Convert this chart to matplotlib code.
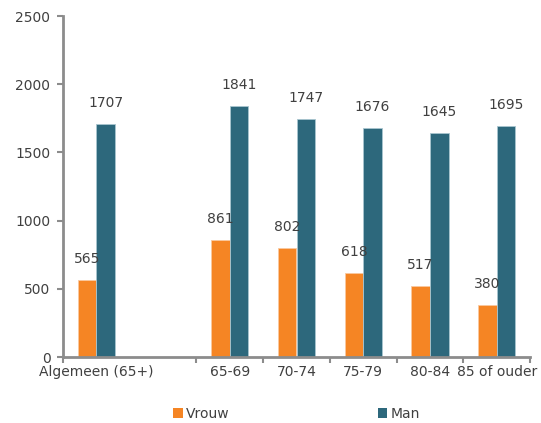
import numpy as np
import matplotlib.pyplot as plt
from matplotlib.patches import Patch

categories = ["Algemeen (65+)", "", "65-69", "70-74", "75-79", "80-84", "85 of ouder"]
vrouw = [565, np.nan, 861, 802, 618, 517, 380]
man = [1707, np.nan, 1841, 1747, 1676, 1645, 1695]

ORANGE = "#F58524"
BLUE = "#2D687C"
GREY = "#8C8C8C"
TXT = "#404040"

plt.rcParams["font.family"] = ["DejaVu Sans"]
plt.rcParams["font.size"] = 10

fig = plt.figure(figsize=(5.41, 4.23), dpi=100)
ax = fig.add_axes([63 / 541, 66 / 423, 467 / 541, 341 / 423])

x = np.arange(len(categories))
w = 0.28
b1 = ax.bar(x - w / 2, vrouw, w, color=ORANGE, edgecolor="#F9C9A0", linewidth=0.6)
b2 = ax.bar(x + w / 2, man, w, color=BLUE, edgecolor="#A9C6D0", linewidth=0.6)

# value labels a little above each bar
for bars, vals in ((b1, vrouw), (b2, man)):
    for rect, v in zip(bars, vals):
        if np.isnan(v):
            continue
        ax.annotate(f"{v:.0f}", (rect.get_x() + rect.get_width() / 2, v),
                    xytext=(0, 14), textcoords="offset pixels",
                    ha="center", va="bottom", fontsize=10, color=TXT)

ax.set_xlim(-0.5, len(categories) - 0.5)
ax.set_ylim(0, 2500)
ax.set_yticks(np.arange(0, 2501, 500))

ax.set_xticks(x)
ax.set_xticklabels(categories, color=TXT)
ax.tick_params(axis="x", which="major", length=0, pad=6)
ax.set_xticks([b for b in np.arange(-0.5, len(categories)) if b != 0.5], minor=True)
ax.tick_params(axis="x", which="minor", length=4, width=1.5, color=GREY, direction="out")
ax.tick_params(axis="y", length=4, width=1.5, color=GREY, labelcolor=TXT, pad=5)

for side in ("top", "right"):
    ax.spines[side].set_visible(False)
for side in ("left", "bottom"):
    ax.spines[side].set_color(GREY)
    ax.spines[side].set_linewidth(2)

handles = [Patch(facecolor=ORANGE, label="Vrouw"), Patch(facecolor=BLUE, label="Man")]
fig.legend(handles=handles, ncol=2, loc="lower left", bbox_to_anchor=(173 / 541, 2 / 423),
           frameon=False, handlelength=0.7, handleheight=0.7, handletextpad=0.2,
           columnspacing=10.7, borderpad=0, borderaxespad=0, labelcolor=TXT)

fig.savefig("out.png", dpi=100)
